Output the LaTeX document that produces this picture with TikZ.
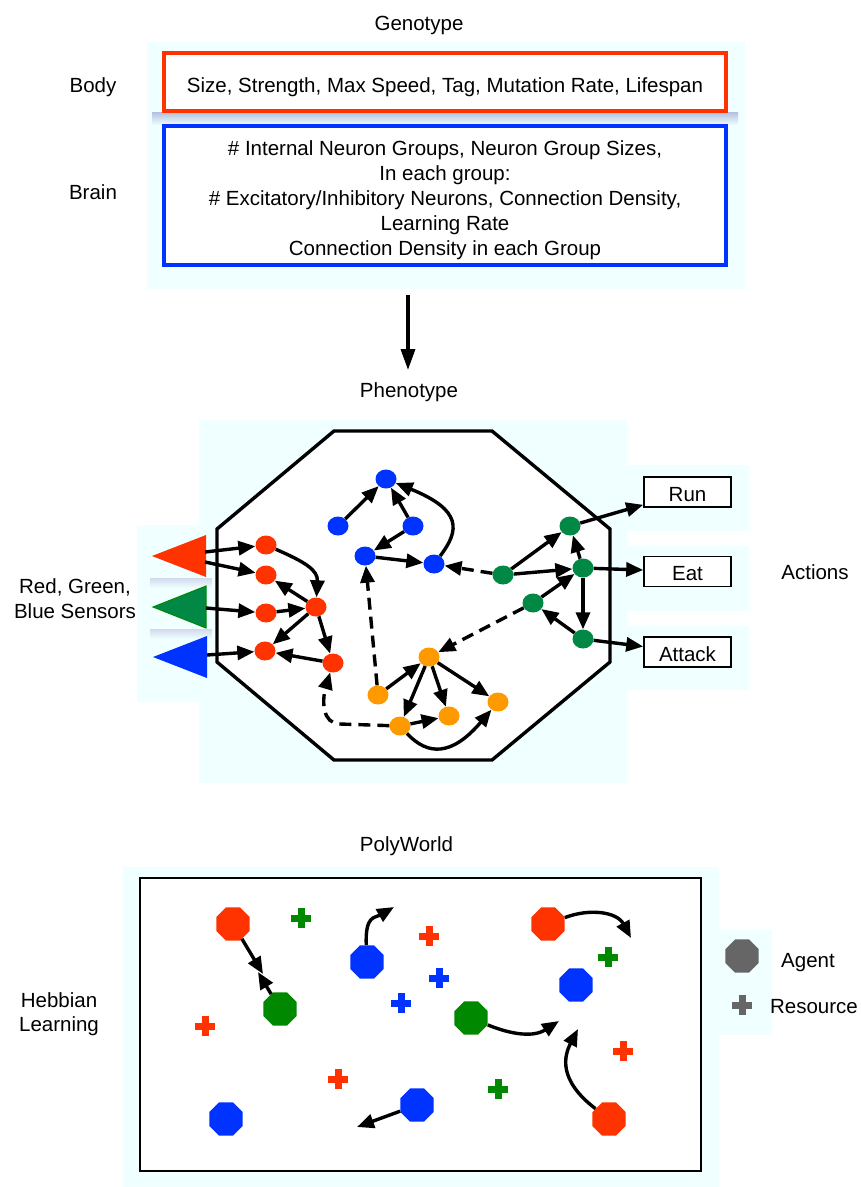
\documentclass[tikz,border=0pt]{standalone}
\usepackage{fontspec}
\setmainfont{Liberation Sans}
\usetikzlibrary{arrows.meta,shapes.geometric}
\definecolor{bgc}{RGB}{240,255,255}
\definecolor{gred}{RGB}{255,51,0}
\definecolor{gblue}{RGB}{0,51,255}
\definecolor{ngreen}{RGB}{0,136,68}
\definecolor{norange}{RGB}{255,153,0}
\definecolor{pgreen}{RGB}{0,136,0}
\definecolor{agray}{RGB}{102,102,102}
\definecolor{shadowc}{RGB}{165,180,220}
\tikzset{
  resource/.pic={
    \fill (-10,-3.5) rectangle (10,3.5);
    \fill (-3.5,-10) rectangle (3.5,10);
  }
}
\begin{document}
\begin{tikzpicture}[x=1pt,y=-1pt,
  lbl/.style={font=\fontsize{20.5}{25}\selectfont, inner sep=0pt, anchor=base},
  neuron/.style={ellipse, minimum width=21pt, minimum height=19pt, inner sep=0pt},
  edge/.style={line width=3.4pt, -{Triangle[length=17pt,width=14pt]}},
  dedge/.style={edge, dash pattern=on 12pt off 7pt},
  agent/.style={regular polygon, regular polygon sides=8, minimum size=36pt, inner sep=0pt},
  actbox/.style={draw, line width=1.6pt, fill=white, minimum width=87pt, minimum height=30pt,
    inner sep=0pt, font=\fontsize{20.5}{25}\selectfont, text height=18pt, text depth=0pt},
]
\useasboundingbox (0,0) rectangle (861,1187);

% ---------------- Genotype ----------------
\fill[bgc] (147,42) rectangle (745,289);
\shade[top color=shadowc!85, bottom color=bgc] (152,112) rectangle (738,125);
\draw[gred, line width=3.2pt, fill=white] (164,53) rectangle (726,111);
\draw[gblue, line width=3.2pt, fill=white] (164,126) rectangle (726,265);

\node[lbl] (tgeno) at (419,30) {Genotype};
\node[lbl] (tbody) at (93,92) {Body};
\node[lbl] (tbrain) at (93,199) {Brain};
\node[lbl] (tbodyg) at (445,92) {Size, Strength, Max Speed, Tag, Mutation Rate, Lifespan};
\node[lbl] (tb1) at (445,155) {\# Internal Neuron Groups, Neuron Group Sizes,};
\node[lbl] (tb2) at (445,180) {In each group:};
\node[lbl] (tb3) at (445,205) {\# Excitatory/Inhibitory Neurons, Connection Density,};
\node[lbl] (tb4) at (445,230) {Learning Rate};
\node[lbl] (tb5) at (445,255) {Connection Density in each Group};

\coordinate (ga) at (408,295);
\coordinate (gb) at (408,370);
\draw[line width=3.4pt, -{Triangle[length=21pt,width=14pt]}] (ga) -- (gb);

% ---------------- Phenotype ----------------
\node[lbl] (tpheno) at (409,397) {Phenotype};
\fill[bgc] (199,420) rectangle (627,783);
\fill[bgc] (137,525) rectangle (210,702);
\fill[bgc] (608,465) rectangle (749,531);
\fill[bgc] (608,546) rectangle (749,611);
\fill[bgc] (608,626) rectangle (749,690);
\shade[top color=shadowc!50, bottom color=bgc] (150,578) rectangle (212,588);
\shade[top color=shadowc!50, bottom color=bgc] (150,629) rectangle (212,639);

\draw[line width=3.4pt, fill=white, line join=miter]
  (334,431) -- (492,431) -- (610,529) -- (610,662) -- (492,760) -- (334,760) -- (217,662) -- (217,529) -- cycle;

\fill[gred] (152,556) -- (206,535) -- (206,577) -- cycle;
\filldraw[fill=ngreen, draw=pgreen, line width=1pt] (153,607) -- (206,586) -- (206,628) -- cycle;
\fill[gblue] (153,657) -- (207,636) -- (207,678) -- cycle;
\coordinate (sr1) at (205,552);
\coordinate (sr2) at (205,562);
\coordinate (sg) at (206,608);
\coordinate (sb) at (207,655);

\node[lbl] (ts1) at (75,593) {Red, Green,};
\node[lbl] (ts2) at (75,618) {Blue Sensors};
\node[lbl] (tact) at (815,579) {Actions};

\node[actbox] (run) at (687.5,492) {Run};
\node[actbox] (eat) at (687.5,571.5) {Eat};
\node[actbox] (attack) at (687.5,652) {Attack};

% neurons
\node[neuron, fill=gred] (R1) at (266,545) {};
\node[neuron, fill=gred] (R2) at (266,575) {};
\node[neuron, fill=gred] (R3) at (266,613) {};
\node[neuron, fill=gred] (R4) at (265,651) {};
\node[neuron, fill=gred] (R5) at (316,607) {};
\node[neuron, fill=gred] (R6) at (333,663) {};

\node[neuron, fill=gblue] (B1) at (386,479) {};
\node[neuron, fill=gblue] (B2) at (338,526) {};
\node[neuron, fill=gblue] (B3) at (413,526) {};
\node[neuron, fill=gblue] (B4) at (365,556) {};
\node[neuron, fill=gblue] (B5) at (434,564) {};

\node[neuron, fill=ngreen] (G1) at (570,526) {};
\node[neuron, fill=ngreen] (G2) at (503,575) {};
\node[neuron, fill=ngreen] (G3) at (583,568) {};
\node[neuron, fill=ngreen] (G4) at (533,603) {};
\node[neuron, fill=ngreen] (G5) at (583,639) {};

\node[neuron, fill=norange] (O1) at (429,657) {};
\node[neuron, fill=norange] (O2) at (378,695) {};
\node[neuron, fill=norange] (O3) at (400,726) {};
\node[neuron, fill=norange] (O4) at (449,716) {};
\node[neuron, fill=norange] (O5) at (498,702) {};

% edges
\draw[edge] (sr1) -- (R1);
\draw[edge] (sr2) -- (R2);
\draw[edge] (sg) -- (R3);
\draw[edge] (sb) -- (R4);
\draw[edge] (R1) .. controls (305,562) and (318,570) .. (R5);
\draw[edge] (R5) -- (R2);
\draw[edge] (R3) -- (R5);
\draw[edge] (R5) -- (R4);
\draw[edge] (R5) -- (R6);
\draw[edge] (R6) -- (R4);
\draw[dedge] (O3) -- (340,724) .. controls (322,724) and (322,700) .. (R6);
\draw[dedge] (O2) -- (B4);
\draw[edge] (B2) -- (B1);
\draw[edge] (B3) -- (B1);
\draw[edge] (B3) -- (B4);
\draw[edge] (B4) -- (B5);
\draw[edge] (B5) .. controls (460,530) and (462,510) .. (B1);
\draw[dedge] (G2) -- (B5);
\draw[edge] (G2) -- (G1);
\draw[edge] (G2) -- (G3);
\draw[edge] (G4) -- (G3);
\draw[dedge] (G4) -- (O1);
\draw[edge] (G3) -- (G1);
\draw[edge] (G3) -- (G5);
\draw[edge] (G5) -- (G4);
\draw[edge] (G1) -- (run);
\draw[edge] (G3) -- (eat);
\draw[edge] (G5) -- (attack);
\draw[edge] (O2) -- (O1);
\draw[edge] (O1) -- (O3);
\draw[edge] (O1) -- (O4);
\draw[edge] (O1) -- (O5);
\draw[edge] (O3) -- (O4);
\draw[edge] (O3) .. controls (428,756) and (452,756) .. (O5);

% ---------------- PolyWorld ----------------
\node[lbl] (tpoly) at (406.5,851) {PolyWorld};
\node[lbl] (theb1) at (59,1007) {Hebbian};
\node[lbl] (theb2) at (59,1031) {Learning};
\fill[bgc] (123,867) rectangle (719,1187);
\fill[bgc] (707,930) rectangle (772,1035);
\draw[line width=1.6pt, fill=white] (140,878) rectangle (701,1171);

\pic[pgreen] at (301,918) {resource};
\pic[pgreen] at (608,957) {resource};
\pic[pgreen] at (498,1089) {resource};
\pic[gred] at (429,936) {resource};
\pic[gred] at (205,1026) {resource};
\pic[gred] at (623,1051) {resource};
\pic[gred] at (338,1079) {resource};
\pic[gblue] at (439,978) {resource};
\pic[gblue] at (401,1003) {resource};

\node[agent, fill=gred] (A1) at (233,924) {};
\node[agent, fill=gred] (A3) at (548,924) {};
\node[agent, fill=gred] (A8) at (609,1119) {};
\node[agent, fill=gblue] (A2) at (367,962) {};
\node[agent, fill=gblue] (A4) at (576,985) {};
\node[agent, fill=gblue] (A7) at (226,1119) {};
\node[agent, fill=gblue] (A9) at (417,1105) {};
\node[agent, fill=pgreen] (A5) at (280,1009) {};
\node[agent, fill=pgreen] (A6) at (471,1018) {};

\coordinate (t1) at (263,974);
\coordinate (t5) at (258,972);
\coordinate (t2) at (394,907);
\coordinate (t3) at (631,938);
\coordinate (t6) at (559,1021);
\coordinate (t8) at (578,1029);
\coordinate (t9) at (357,1127);
\draw[edge] (A1) -- (t1);
\draw[edge] (A5) -- (t5);
\draw[edge] (A2) .. controls (365,915) and (375,918) .. (t2);
\draw[edge] (A3) .. controls (590,908) and (617,912) .. (t3);
\draw[edge] (A6) .. controls (505,1032) and (531,1039) .. (t6);
\draw[edge] (A8) .. controls (558,1080) and (564,1056) .. (t8);
\draw[edge] (A9) -- (t9);

% legend
\node[agent, fill=agray] (LA) at (742,956) {};
\pic[agray] at (742,1005) {resource};
\node[lbl] (tagent) at (808,967) {Agent};
\node[lbl] (tres) at (814,1013) {Resource};
\end{tikzpicture}
\end{document}
